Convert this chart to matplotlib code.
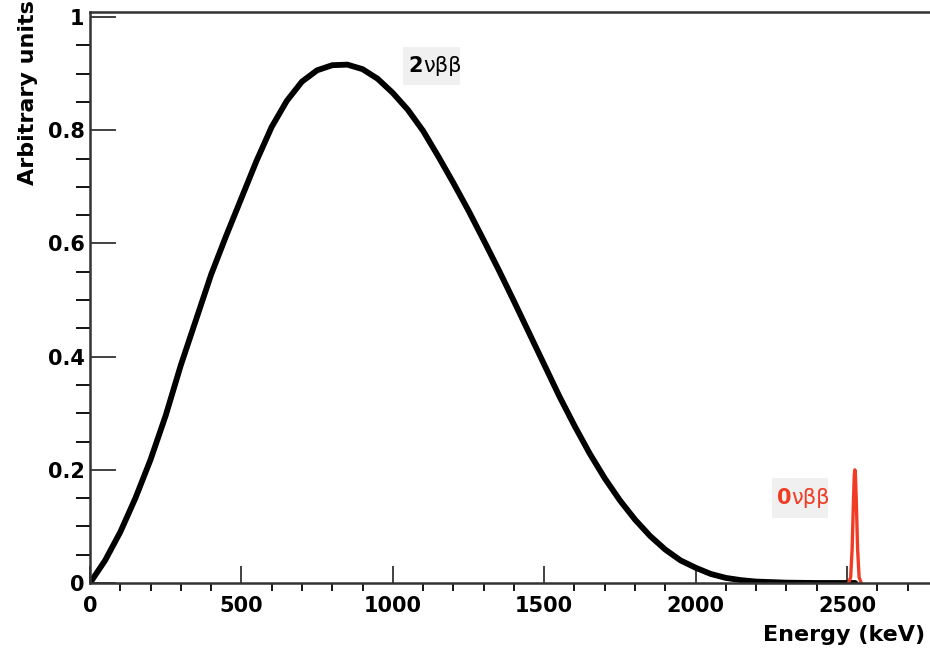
import numpy as np
import matplotlib.pyplot as plt
from matplotlib.patches import Rectangle
from matplotlib.ticker import MultipleLocator, FuncFormatter

plt.rcParams['font.family'] = ['DejaVu Sans']

# 2vbb spectrum (keV, arbitrary units)
e_2nu = [0, 50, 100, 150, 200, 250, 300, 350, 400, 450, 500, 550, 600, 650, 700,
         750, 800, 850, 900, 950, 1000, 1050, 1100, 1150, 1200, 1250, 1300, 1350,
         1400, 1450, 1500, 1550, 1600, 1650, 1700, 1750, 1800, 1850, 1900, 1950,
         2000, 2050, 2100, 2150, 2200, 2300, 2400, 2527]
v_2nu = [0, 0.040, 0.090, 0.150, 0.218, 0.296, 0.385, 0.465, 0.545, 0.614, 0.680,
         0.746, 0.806, 0.852, 0.886, 0.906, 0.915, 0.916, 0.908, 0.891, 0.866,
         0.836, 0.799, 0.754, 0.707, 0.658, 0.606, 0.553, 0.498, 0.442, 0.386,
         0.330, 0.278, 0.229, 0.185, 0.146, 0.112, 0.083, 0.059, 0.040, 0.027,
         0.016, 0.009, 0.005, 0.0025, 0.0006, 0.0, 0.0]

# 0vbb peak
e_0nu = [2505, 2512, 2517, 2521, 2524, 2526, 2528, 2531, 2535, 2540, 2547]
v_0nu = [0, 0.01, 0.06, 0.14, 0.19, 0.2, 0.19, 0.14, 0.06, 0.01, 0]

red = '#f03c24'

fig = plt.figure(figsize=(9.3, 6.5), dpi=100)
ax = fig.add_axes([90/930, 67/650, 2800*0.3028/930, 571/650])

ax.plot(e_2nu, v_2nu, color='black', lw=4.2, solid_capstyle='round', solid_joinstyle='round')
ax.plot(e_0nu, v_0nu, color=red, lw=2.4)

ax.set_xlim(0, 2800)
ax.set_ylim(0, 1.009)

ax.xaxis.set_major_locator(MultipleLocator(500))
ax.xaxis.set_minor_locator(MultipleLocator(100))
ax.yaxis.set_major_locator(MultipleLocator(0.2))
ax.yaxis.set_minor_locator(MultipleLocator(0.05))
ax.yaxis.set_major_formatter(FuncFormatter(lambda v, p: '%g' % round(v, 2)))

ax.tick_params(axis='both', direction='in', labelsize=15, width=1.3, color='#333333')
ax.tick_params(axis='y', which='major', length=19, pad=4)
ax.tick_params(axis='y', which='minor', length=10, width=1.3)
ax.tick_params(axis='x', which='major', length=12, pad=9)
ax.tick_params(axis='x', which='minor', length=6, width=1.3)
for lab in ax.get_xticklabels() + ax.get_yticklabels():
    lab.set_fontweight('bold')

for s in ['left', 'bottom', 'top']:
    ax.spines[s].set_linewidth(1.8)
    ax.spines[s].set_color('#333333')
ax.spines['right'].set_visible(False)

fig.text(28/930, 1.0, 'Arbitrary units', rotation=90, ha='center', va='top',
         fontsize=16, fontweight='bold')
fig.text(925/930, 15/650, 'Energy (keV)', ha='right', va='center',
         fontsize=16, fontweight='bold')


def label(x, y, num, color, box):
    # grey box behind, bold digit, plain greek letters
    ax.add_patch(Rectangle((box[0], box[1]), box[2], box[3], facecolor='#f0f0f0',
                           edgecolor='none', zorder=1))
    t = ax.text(x, y, num, fontsize=15, fontweight='bold', va='center', color=color)
    ax.annotate('νββ', xy=(1, 0.5), xycoords=t, va='center', ha='left',
                fontsize=15, color=color)


label(1052, 0.913, '2', 'black', (1034, 0.880, 188, 0.067))
label(2268, 0.150, '0', red, (2252, 0.115, 185, 0.070))

fig.savefig('out.png', dpi=100)
